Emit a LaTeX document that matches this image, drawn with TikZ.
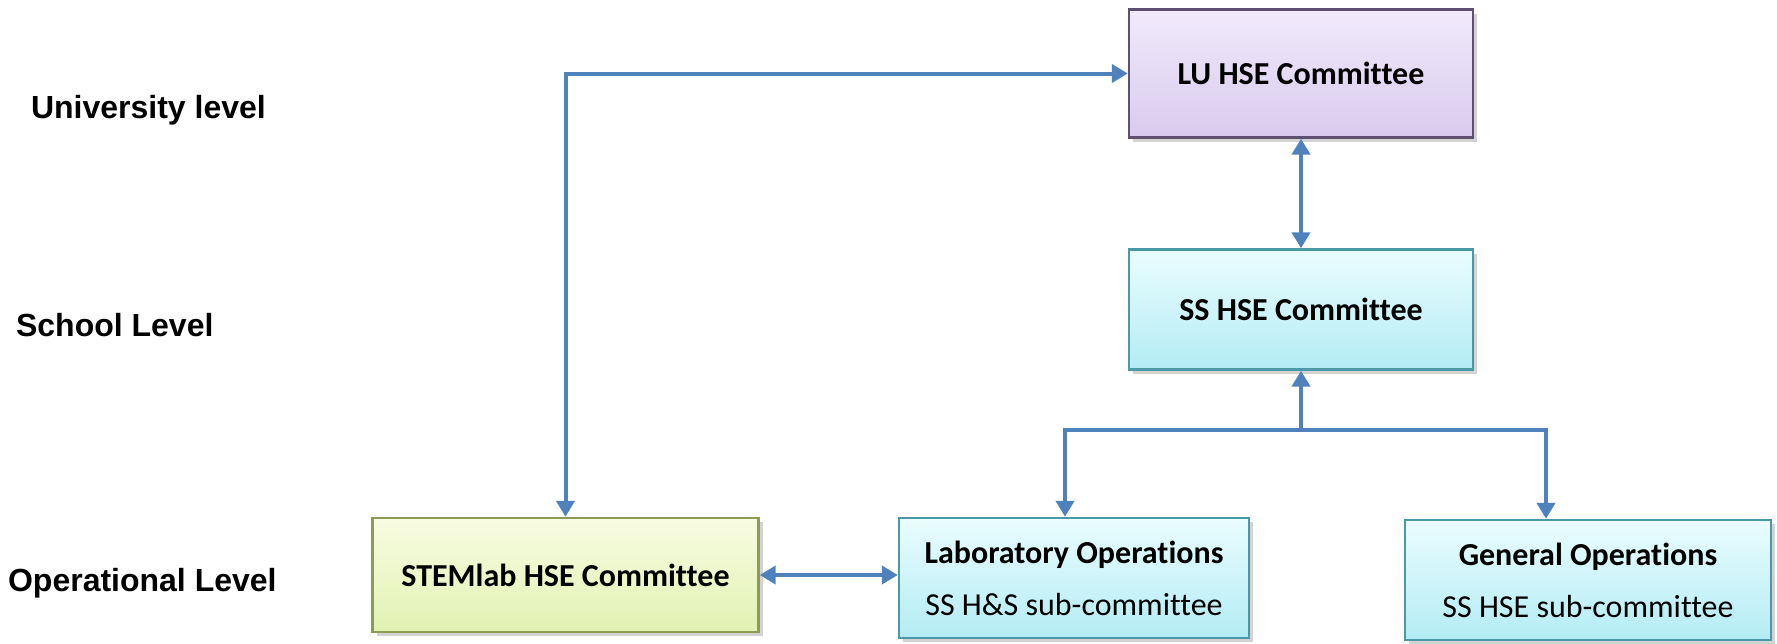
\documentclass[tikz,border=0pt]{standalone}
\usepackage{fontspec}
\setmainfont{Carlito}[Ligatures=NoCommon]
\newfontfamily\levelfont{Liberation Sans}
\usetikzlibrary{arrows.meta, shadows}

\definecolor{arrowblue}{HTML}{4F81BD}
\definecolor{lilactop}{HTML}{F1EAFB}
\definecolor{lilacbot}{HTML}{D8CBEE}
\definecolor{lilacline}{HTML}{5E5070}
\definecolor{aquatop}{HTML}{EAFDFF}
\definecolor{aquabot}{HTML}{B3ECF4}
\definecolor{aqualine}{HTML}{4A98A8}
\definecolor{limetop}{HTML}{F8FCE2}
\definecolor{limebot}{HTML}{E2F1B2}
\definecolor{limeline}{HTML}{8C9C55}

\tikzset{
  box/.style={draw, line width=1.2pt, align=center, minimum width=172pt, minimum height=60pt,
    font=\fontsize{16}{22}\selectfont,
    drop shadow={shadow xshift=2pt, shadow yshift=-2pt, opacity=0.35}},
  lubox/.style={box, draw=lilacline, top color=lilactop, bottom color=lilacbot},
  ssbox/.style={box, draw=aqualine, top color=aquatop, bottom color=aquabot},
  stembox/.style={box, draw=limeline, top color=limetop, bottom color=limebot},
  level/.style={anchor=west, font=\levelfont\bfseries\fontsize{16}{20}\selectfont},
  link/.style={draw=arrowblue, line width=2pt, >={Triangle[width=9pt, length=8pt]}}
}

\begin{document}
\begin{tikzpicture}[x=0.5pt, y=-0.5pt]
    \useasboundingbox (0, 0) rectangle (1777, 643);

    \node[level] at (24, 110)  (uni) {University level};
    \node[level] at (9, 325)   (school) {School Level};
    \node[level] at (1, 583)   (oper) {Operational Level};

    \node[lubox, minimum height=64pt] at (1301, 73.5) (lu) {\bfseries LU HSE Committee};
    \node[ssbox] at (1301, 309.5) (ss) {\bfseries SS HSE Committee};
    \node[stembox, minimum width=193pt, minimum height=57pt] at (565.5, 575) (stem) {\bfseries STEMlab HSE Committee};
    \node[ssbox, minimum width=175pt] at (1074, 578) (lab) {\bfseries Laboratory Operations\\[4pt] SS H\&S sub-committee};
    \node[ssbox, minimum width=183pt] at (1588, 580) (gen) {\bfseries General Operations\\[4pt] SS HSE sub-committee};

    \coordinate (fork) at (1301, 430);

    \draw [link, <->] (stem.north) |- (lu.west);
    \draw [link, <->] (lu.south) -- (ss.north);
    \draw [link, ->] (fork) -- (ss.south);
    \draw [link, <->] ([xshift=-4.5pt]lab.north) |- (fork) -| ([xshift=-21pt]gen.north);
    \draw [link, <->] (stem.east) -- (stem.east -| lab.west);
\end{tikzpicture}
\end{document}
